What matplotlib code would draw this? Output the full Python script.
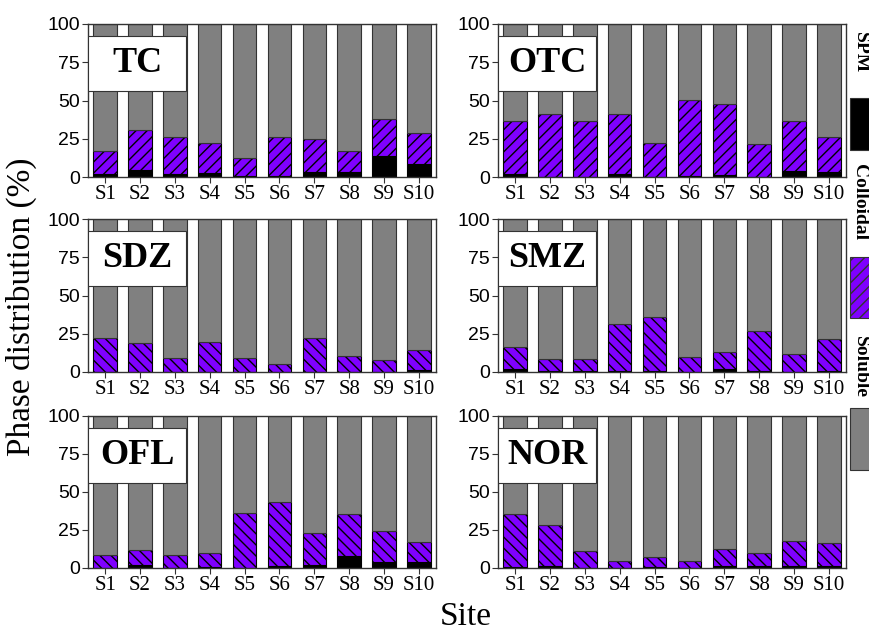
import numpy as np
import matplotlib
matplotlib.use("Agg")
import matplotlib.pyplot as plt
from matplotlib.patches import Rectangle

# Sites and compounds
sites = ["S1", "S2", "S3", "S4", "S5", "S6", "S7", "S8", "S9", "S10"]
compounds = ["TC", "OTC", "SDZ", "SMZ", "OFL", "NOR"]

# SPM fraction (%) per site
spm_tc = [1.8, 4.4, 1.8, 2.9, 0.4, 0.4, 3.1, 3.1, 13.8, 8.6]
spm_otc = [2.2, 0.2, 0.2, 1.8, 0.2, 0.4, 1.3, 0.2, 3.7, 3.3]
spm_sdz = [0.3, 0.3, 0.2, 0.3, 0.2, 0.2, 0.3, 0.3, 0.2, 1.3]
spm_smz = [2.0, 0.7, 0.5, 0.5, 0.5, 0.3, 1.8, 0.5, 0.3, 0.5]
spm_ofl = [0.3, 2.2, 0.3, 0.9, 0.3, 1.3, 1.8, 7.7, 4.2, 4.2]
spm_nor = [0.5, 1.3, 0.3, 0.3, 0.5, 0.3, 1.1, 1.1, 1.2, 1.0]

# Colloidal fraction (%) per site
col_tc = [15.3, 26.4, 24.6, 19.5, 12.3, 26.0, 21.9, 14.0, 24.2, 20.0]
col_otc = [34.1, 40.8, 36.5, 39.2, 21.8, 50.1, 46.7, 21.6, 32.6, 22.8]
col_sdz = [22.1, 18.6, 8.8, 19.5, 8.8, 4.8, 21.7, 10.0, 7.9, 13.2]
col_smz = [14.5, 8.1, 8.1, 31.1, 35.3, 9.2, 11.2, 26.5, 11.3, 21.0]
col_ofl = [8.2, 9.4, 8.2, 8.9, 36.2, 42.0, 21.2, 28.0, 20.3, 12.8]
col_nor = [34.7, 26.7, 11.1, 4.3, 6.7, 4.3, 11.4, 8.7, 16.8, 15.6]

spm_all = [spm_tc, spm_otc, spm_sdz, spm_smz, spm_ofl, spm_nor]
col_all = [col_tc, col_otc, col_sdz, col_smz, col_ofl, col_nor]

SERIF = "Liberation Serif"
SANS = "Liberation Sans"
GRAY = "#808080"
PURPLE = "#7f00ff"

fig = plt.figure(figsize=(8.7, 6.31), dpi=100)

W, H = 870.0, 631.0
col_x = [88, 498]
ax_w = 348
row_y = [(24, 177), (219, 372), (416, 568)]

x = np.arange(len(sites))
for i, name in enumerate(compounds):
    r, c = divmod(i, 2)
    top, bot = row_y[r]
    ax = fig.add_axes([col_x[c] / W, 1 - bot / H, ax_w / W, (bot - top) / H])

    spm = np.array(spm_all[i])
    col = np.array(col_all[i])
    sol = 100 - spm - col
    hatch = "///" if r == 0 else "\\\\\\"

    ax.bar(x, spm, width=0.67, color="black", edgecolor="black", lw=0.8)
    ax.bar(x, col, bottom=spm, width=0.67, color=PURPLE, edgecolor="black",
           lw=0.8, hatch=hatch)
    ax.bar(x, sol, bottom=spm + col, width=0.67, color=GRAY,
           edgecolor="#333333", lw=0.8)

    ax.set_xlim(-0.49, 9.49)
    ax.set_ylim(0, 100)
    ax.set_yticks([0, 25, 50, 75, 100])
    ax.set_xticks(x)
    ax.set_xticklabels(sites, fontfamily=SERIF, fontsize=15)
    for lab in ax.get_yticklabels():
        lab.set_fontfamily(SANS)
        lab.set_fontsize(14)
    ax.tick_params(axis="both", direction="out", length=4, width=0.8,
                   colors="#333333", labelcolor="black", pad=2)
    for sp in ax.spines.values():
        sp.set_linewidth(1.0)
        sp.set_color("#333333")

    # panel label in a fixed white box
    ax.add_patch(Rectangle((0.0, 0.56), 0.283, 0.36, transform=ax.transAxes,
                           facecolor="white", edgecolor="#333333", lw=0.8,
                           zorder=5))
    ax.text(0.1415, 0.74, name, transform=ax.transAxes, ha="center",
            va="center", fontfamily=SERIF, fontweight="bold", fontsize=26,
            zorder=6)

fig.text(0.025, 1 - 307 / H, "Phase distribution (%)", rotation=90,
         ha="center", va="center", fontfamily=SERIF, fontsize=24)
fig.text(0.535, 1 - 625 / H, "Site", ha="center", va="baseline",
         fontfamily=SERIF, fontsize=24)

# vertical legend on the right edge
leg = [("SPM", "black", None, 38, 68, 98, 150),
       ("Colloidal", PURPLE, "///", 165, 240, 257, 318),
       ("Soluble", GRAY, None, 333, 400, 408, 470)]
for label, fc, hatch, t0, t1, p0, p1 in leg:
    fig.text(860 / W, 1 - (t0 + t1) / 2 / H, label, rotation=-90,
             ha="center", va="center", fontfamily=SERIF, fontweight="bold",
             fontsize=14)
    fig.patches.append(Rectangle((850 / W, 1 - p1 / H), 24 / W, (p1 - p0) / H,
                                 transform=fig.transFigure, facecolor=fc,
                                 edgecolor="#333333", lw=0.8, hatch=hatch))

fig.savefig("out.png", dpi=100)
